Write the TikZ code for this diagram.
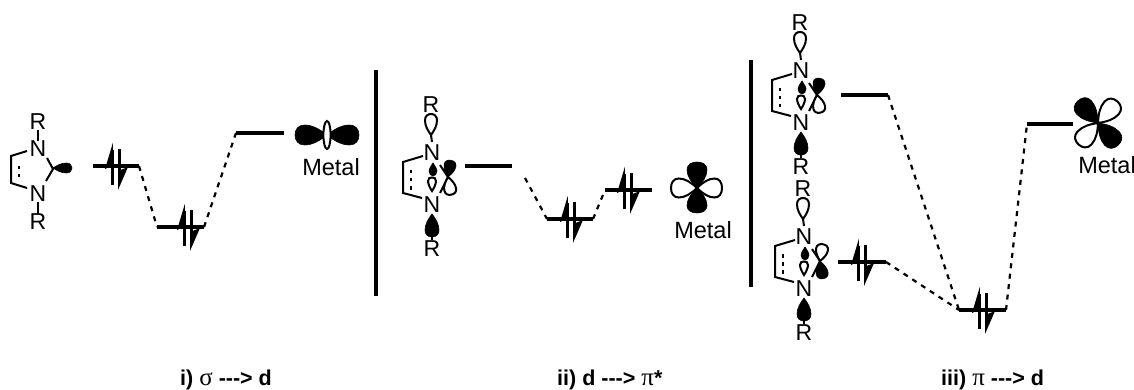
\documentclass[tikz,border=0pt]{standalone}
\usepackage{fontspec}
\setmainfont{Liberation Sans}
\newfontfamily\greekf{Liberation Serif}
\newcommand{\grk}[1]{{\fontsize{25}{25}\selectfont\greekf\mdseries #1}}
\newcommand{\lobe}[6]{% x,y angle length width style
  \path[#6,shift={(#1,#2)},rotate=#3]
    (0,0) .. controls (.22*#4,.28*#5) and (.45*#4,.5*#5) .. (.7*#4,.5*#5)
          .. controls (.9*#4,.5*#5) and (#4,.28*#5) .. (#4,0)
          .. controls (#4,-.28*#5) and (.9*#4,-.5*#5) .. (.7*#4,-.5*#5)
          .. controls (.45*#4,-.5*#5) and (.22*#4,-.28*#5) .. (0,0) -- cycle;}
\newcommand{\nhcbody}[2]{%
  \node[atom] (-n1) at (0,0) {N};
  \node[atom] (-n2) at (0,52) {N};
  \node[atom] (-r1) at (-1,-48) {R};
  \node[atom] (-r2) at (0,96) {R};
  \coordinate (-a1) at (-9,3);
  \coordinate (-c1) at (-29,9);
  \coordinate (-c2) at (-29,40);
  \coordinate (-a2) at (-10,45);
  \coordinate (-d1) at (-21,17);
  \coordinate (-d2) at (-21,42);
  \coordinate (-b1) at (8,12);
  \coordinate (-b2) at (8,40);
  \coordinate (-cc) at (16,24);
  \coordinate (-t1) at (-1,-18);
  \coordinate (-t2) at (0,-11);
  \coordinate (-t3) at (0,84);
  \coordinate (-t4) at (0,87);
  \draw[bond] (-a1) -- (-c1) -- (-c2) -- (-a2);
  \draw[bond,dash pattern=on 3.5pt off 4.5pt] (-d1) -- (-d2);
  \draw[bond] (-b1) -- (-cc) -- (-b2);
  \draw[bond] (-t1) -- (-t2);
  \draw[bond] (-t3) -- (-t4);
  \lobe{-1}{-18}{90}{21}{12}{whitelobe}
  \lobe{0}{61}{-90}{23}{14}{blacklobe}
  \path[blacklobe] (1,10) .. controls (3,13) and (5,16) .. (5,18) .. controls (5,21) and (3,23) .. (1,23) .. controls (-1,23) and (-3,21) .. (-3,18) .. controls (-3,16) and (-1,13) .. (1,10) -- cycle;
  \path[whitelobe] (0,38) .. controls (-2,35) and (-4,31) .. (-4,28) .. controls (-4,25) and (-2,24.5) .. (0,24.5) .. controls (2,24.5) and (4,25) .. (4,28) .. controls (4,31) and (2,35) .. (0,38) -- cycle;
  \lobe{16}{24}{80}{17}{12}{#1}
  \lobe{16}{24}{-80}{18}{12}{#2}
}
\tikzset{
  x=1pt,y=-1pt,
  atom/.style={font=\fontsize{23}{23}\selectfont,inner sep=0pt},
  metal/.style={font=\fontsize{23.5}{23.5}\selectfont,inner sep=0pt},
  caption/.style={font=\fontsize{21.5}{22}\selectfont\bfseries,inner sep=0pt,anchor=base west},
  bond/.style={line width=2pt},
  level/.style={line width=3.2pt},
  divider/.style={line width=3.2pt},
  link/.style={line width=2.2pt,dash pattern=on 5pt off 5.5pt},
  blacklobe/.style={fill=black,draw=black,line width=.6pt},
  whitelobe/.style={fill=white,draw=black,line width=2pt},
  nhcA/.pic={\nhcbody{blacklobe}{whitelobe}},
  nhcB/.pic={\nhcbody{whitelobe}{blacklobe}},
  pair/.pic={
    \draw[line width=3pt] (0,19) -- (0,-16);
    \fill (0.8,-23) -- (-7,3) -- (1,-1) -- cycle;
    \draw[line width=3pt] (7,-17) -- (7,9);
    \fill (6,24) -- (16,1) -- (6,5) -- cycle;
  },
}
\begin{document}
\begin{tikzpicture}
\useasboundingbox (0,0) rectangle (1134,390);
% dividers
\coordinate (dv1a) at (376,70); \coordinate (dv1b) at (376,296);
\coordinate (dv2a) at (751,60); \coordinate (dv2b) at (751,287);
\draw[divider] (dv1a) -- (dv1b);
\draw[divider] (dv2a) -- (dv2b);
% panel i molecule
\node[atom] (an1) at (38,149) {N};
\node[atom] (an2) at (38,194) {N};
\node[atom] (ar1) at (38,122) {R};
\node[atom] (ar2) at (38,222) {R};
\coordinate (ac0) at (27,151); \coordinate (ac1) at (11,156); \coordinate (ac2) at (11,183); \coordinate (ac3) at (27,188);
\coordinate (ad1) at (19,166); \coordinate (ad2) at (19,182);
\coordinate (ab1) at (47,158); \coordinate (acc) at (53,169); \coordinate (ab2) at (46,181);
\draw[bond] (ac0) -- (ac1) -- (ac2) -- (ac3);
\draw[bond,dash pattern=on 3.5pt off 4.5pt] (ad1) -- (ad2);
\draw[bond] (ab1) -- (acc) -- (ab2);
\draw[bond] (ar1) -- (an1);
\draw[bond] (ar2) -- (an2);
\lobe{53}{168}{0}{19}{10}{blacklobe}
% panel i levels
\coordinate (l1a) at (93,166); \coordinate (l1b) at (139,166);
\coordinate (l2a) at (157,227); \coordinate (l2b) at (204,227);
\coordinate (l3a) at (236,133); \coordinate (l3b) at (284,133);
\draw[level] (l1a) -- (l1b);
\draw[level] (l2a) -- (l2b);
\draw[level] (l3a) -- (l3b);
\pic at (112,166) {pair};
\pic at (184,227) {pair};
\draw[link] (l1b) -- (l2a);
\draw[link] (l2b) -- (l3a);
% sigma orbital
\lobe{327}{135}{180}{32}{20}{blacklobe}
\lobe{327}{135}{0}{32}{20}{blacklobe}
\path[whitelobe] (327,135) ellipse [x radius=3.6,y radius=14];
\node[metal] (m1) at (331,167) {Metal};
% panel ii
\pic (mb) at (432,153) {nhcA};
\coordinate (p1a) at (465,166); \coordinate (p1b) at (512,166);
\coordinate (p1c) at (525,178);
\coordinate (p2a) at (547,219); \coordinate (p2b) at (593,219);
\coordinate (p3a) at (605,190); \coordinate (p3b) at (652,190);
\draw[level] (p1a) -- (p1b);
\draw[level] (p2a) -- (p2b);
\draw[level] (p3a) -- (p3b);
\pic at (567,219) {pair};
\pic at (624,190) {pair};
\draw[link] (p1c) -- (p2a);
\draw[link] (p2b) -- (p3a);
\lobe{697}{188}{180}{26}{19}{whitelobe}
\lobe{697}{188}{0}{25}{19}{whitelobe}
\lobe{697}{188}{90}{26}{20}{blacklobe}
\lobe{697}{188}{-90}{25}{20}{blacklobe}
\node[metal] (m2) at (703,230) {Metal};
% panel iii
\pic (mc) at (801,71) {nhcA};
\pic (md) at (804,237) {nhcB};
\coordinate (q1a) at (841,95); \coordinate (q1b) at (888,95);
\coordinate (q2a) at (838,262); \coordinate (q2b) at (886,262);
\coordinate (q3a) at (959,310); \coordinate (q3b) at (1006,310);
\coordinate (q4a) at (1027,124); \coordinate (q4b) at (1073,124);
\draw[level] (q1a) -- (q1b);
\draw[level] (q2a) -- (q2b);
\draw[level] (q3a) -- (q3b);
\draw[level] (q4a) -- (q4b);
\pic at (858,262) {pair};
\pic at (979,310) {pair};
\draw[link] (q1b) -- (q3a);
\draw[link] (q2b) -- (q3a);
\draw[link] (q3b) -- (q4a);
\lobe{1098}{123}{48}{29}{19}{whitelobe}
\lobe{1098}{123}{-132}{29}{19}{whitelobe}
\lobe{1098}{123}{132}{30}{20}{blacklobe}
\lobe{1098}{123}{-48}{30}{20}{blacklobe}
\node[metal] (m3) at (1107,165) {Metal};
% captions
\node[caption] (c1) at (180,385) {i) \grk{σ} -{}-{}-> d};
\node[caption] (c2) at (557,385) {ii) d -{}-{}-> \grk{π}*};
\node[caption] (c3) at (941,385) {iii) \grk{π} -{}-{}-> d};
\end{tikzpicture}
\end{document}
